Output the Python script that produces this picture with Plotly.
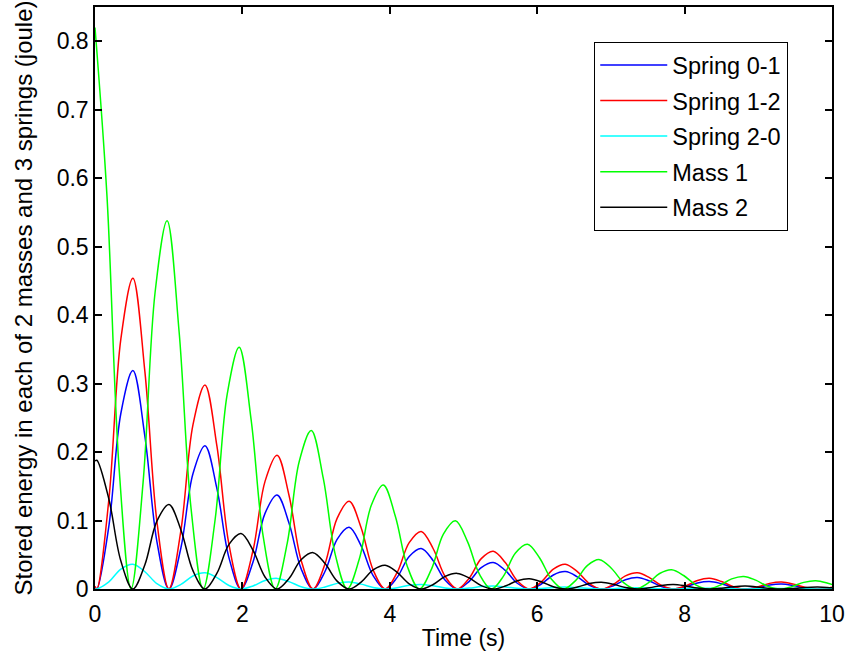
import plotly.graph_objects as go

# time samples (s)
t_mass = [0, 0.163, 0.326, 0.489, 0.652, 0.815, 0.978, 1.141, 1.304, 1.467, 1.63, 1.793,
          1.956, 2.119, 2.282, 2.445, 2.608, 2.771, 2.934, 3.097, 3.26, 3.423, 3.586, 3.749,
          3.912, 4.075, 4.238, 4.401, 4.564, 4.727, 4.89, 5.053, 5.216, 5.379, 5.542, 5.705,
          5.868, 6.031, 6.194, 6.357, 6.52, 6.683, 6.846, 7.009, 7.172, 7.335, 7.498, 7.661,
          7.824, 7.987, 8.15, 8.313, 8.476, 8.639, 8.802, 8.965, 9.128, 9.291, 9.454, 9.617,
          9.78, 9.943, 10.106]
t_spring = [0, 0.025, 0.188, 0.351, 0.514, 0.677, 0.84, 1.003, 1.166, 1.329, 1.492, 1.655,
            1.818, 1.981, 2.144, 2.307, 2.47, 2.633, 2.796, 2.959, 3.122, 3.285, 3.448, 3.611,
            3.774, 3.937, 4.1, 4.263, 4.426, 4.589, 4.752, 4.915, 5.078, 5.241, 5.404, 5.567,
            5.73, 5.893, 6.056, 6.219, 6.382, 6.545, 6.708, 6.871, 7.034, 7.197, 7.36, 7.523,
            7.686, 7.849, 8.012, 8.175, 8.338, 8.501, 8.664, 8.827, 8.99, 9.153, 9.316, 9.479,
            9.642, 9.805, 9.968, 10.131]

spring_01 = [0.003,
             0, 0.0918, 0.2567, 0.3190, 0.2230, 0.0693,
             0, 0.0602, 0.1684, 0.2093, 0.1463, 0.0455,
             0, 0.0395, 0.1105, 0.1373, 0.0960, 0.0298,
             0, 0.0259, 0.0725, 0.0901, 0.0630, 0.0196,
             0, 0.0170, 0.0475, 0.0591, 0.0413, 0.0128,
             0, 0.0112, 0.0312, 0.0388, 0.0271, 0.0084,
             0, 0.0073, 0.0205, 0.0254, 0.0178, 0.0055,
             0, 0.0048, 0.0134, 0.0167, 0.0117, 0.0036,
             0, 0.0032, 0.0088, 0.0109, 0.0077, 0.0024,
             0, 0.0021, 0.0058, 0.0072, 0.0050, 0.0016,
             0, 0.0014, 0.0038]
spring_12 = [0.004,
             0, 0.1306, 0.3653, 0.4540, 0.3174, 0.0986,
             0, 0.0857, 0.2397, 0.2979, 0.2082, 0.0647,
             0, 0.0562, 0.1572, 0.1954, 0.1366, 0.0424,
             0, 0.0369, 0.1031, 0.1282, 0.0896, 0.0278,
             0, 0.0242, 0.0677, 0.0841, 0.0588, 0.0183,
             0, 0.0159, 0.0444, 0.0552, 0.0386, 0.0120,
             0, 0.0104, 0.0291, 0.0362, 0.0253, 0.0079,
             0, 0.0068, 0.0191, 0.0237, 0.0166, 0.0052,
             0, 0.0045, 0.0125, 0.0156, 0.0109, 0.0034,
             0, 0.0029, 0.0082, 0.0102, 0.0071, 0.0022,
             0, 0.0019, 0.0054]
spring_20 = [0,
             0, 0.0104, 0.0290, 0.0360, 0.0252, 0.0078,
             0, 0.0068, 0.0190, 0.0236, 0.0165, 0.0051,
             0, 0.0045, 0.0125, 0.0155, 0.0108, 0.0034,
             0, 0.0029, 0.0082, 0.0102, 0.0071, 0.0022,
             0, 0.0019, 0.0054, 0.0067, 0.0047, 0.0015,
             0, 0.0013, 0.0035, 0.0044, 0.0031, 0.0010,
             0, 0.0008, 0.0023, 0.0029, 0.0020, 0.0006,
             0, 0.0005, 0.0015, 0.0019, 0.0013, 0.0004,
             0, 0.0004, 0.0010, 0.0012, 0.0009, 0.0003,
             0, 0.0002, 0.0007, 0.0008, 0.0006, 0.0002,
             0, 0.0002, 0.0004]
mass_1 = [0.820, 0.573, 0.178, 0, 0.155, 0.433,
          0.538, 0.376, 0.117, 0, 0.1015, 0.284,
          0.353, 0.2467, 0.0767, 0, 0.0666, 0.1862,
          0.2315, 0.1618, 0.0503, 0, 0.0437, 0.1222,
          0.1519, 0.1062, 0.0330, 0, 0.0287, 0.0801,
          0.0996, 0.0696, 0.0216, 0, 0.0188, 0.0526,
          0.0653, 0.0457, 0.0142, 0, 0.0123, 0.0345,
          0.0429, 0.0300, 0.0093, 0, 0.0081, 0.0226,
          0.0281, 0.0197, 0.0061, 0, 0.0053, 0.0148,
          0.0184, 0.0129, 0.0040, 0, 0.0035, 0.0097,
          0.0121, 0.0085, 0.0026]
mass_2 = [0.187,
          0.188, 0.1314, 0.0408, 0, 0.0355, 0.0992,
          0.1233, 0.0862, 0.0268, 0, 0.0233, 0.0651,
          0.0809, 0.0566, 0.0176, 0, 0.0153, 0.0427,
          0.0531, 0.0371, 0.0115, 0, 0.0100, 0.0280,
          0.0348, 0.0243, 0.0076, 0, 0.0066, 0.0184,
          0.0228, 0.0160, 0.0050, 0, 0.0043, 0.0121,
          0.0150, 0.0105, 0.0033, 0, 0.0028, 0.0079,
          0.0098, 0.0069, 0.0021, 0, 0.0019, 0.0052,
          0.0065, 0.0045, 0.0014, 0, 0.0012, 0.0034,
          0.0042, 0.0030, 0.0009, 0, 0.0008, 0.0022,
          0.0028, 0.0019, 0.0006]

series_names = ["Spring 0-1", "Spring 1-2", "Spring 2-0", "Mass 1", "Mass 2"]
series_x = [t_spring, t_spring, t_spring, t_mass, t_spring]
series_y = [spring_01, spring_12, spring_20, mass_1, mass_2]
colors = ["#0000FF", "#FF0000", "#00FFFF", "#00FF00", "#000000"]

FONT = "Liberation Sans, Arial, Helvetica, sans-serif"

fig = go.Figure()
for name, xs, ys, c in zip(series_names, series_x, series_y, colors):
    fig.add_trace(go.Scatter(x=xs, y=ys, mode="lines", name=name, legendgroup=name,
                             line=dict(color=c, width=1.5, shape="spline")))

axis_common = dict(showline=True, linecolor="black", linewidth=1.5, mirror="ticks",
                   ticks="inside", ticklen=7, tickwidth=1.5, tickcolor="black",
                   showgrid=False, zeroline=False, automargin=False,
                   tickfont=dict(family=FONT, size=23, color="black"))

fig.update_layout(
    width=850, height=651,
    margin=dict(l=95, r=18, t=7, b=62),
    paper_bgcolor="white", plot_bgcolor="white",
    font=dict(family=FONT, size=23, color="black"),
    xaxis=dict(range=[0, 10], tick0=0, dtick=2, ticklabelstandoff=4,
               title=dict(text="Time (s)", font=dict(family=FONT, size=23), standoff=5),
               **axis_common),
    yaxis=dict(range=[0, 0.85], tick0=0, dtick=0.1,
               title=dict(text="Stored energy in each of 2 masses and 3 springs (joule)",
                          font=dict(family=FONT, size=24), standoff=17),
               **axis_common),
    legend=dict(x=0.677, y=0.94, xanchor="left", yanchor="top",
                bgcolor="white", bordercolor="black", borderwidth=1.3,
                font=dict(family=FONT, size=23.5, color="black"),
                tracegroupgap=2, itemwidth=67),
    showlegend=True,
)

fig.write_html("out.html",
               config={"displayModeBar": False},
               post_script="document.body.style.margin='0';document.body.style.overflow='hidden';")
